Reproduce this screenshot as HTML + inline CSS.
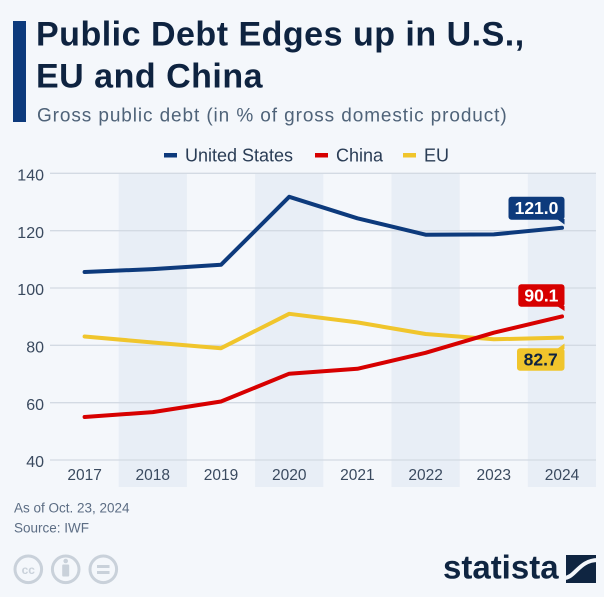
<!DOCTYPE html>
<html><head><meta charset="utf-8"><style>
html,body{margin:0;padding:0;background:#f4f7fb;}
svg{display:block;}
text{font-family:"Liberation Sans",Arial,sans-serif;}
</style></head><body>
<svg width="604" height="597" viewBox="0 0 604 597" xmlns="http://www.w3.org/2000/svg">
<rect x="0" y="0" width="604" height="597" fill="#f4f7fb"/>
<!-- title bar -->
<rect x="13" y="21" width="13" height="101" fill="#0d3a7c"/>
<text x="36" y="45.7" font-size="34" font-weight="bold" fill="#0e2340" letter-spacing="0.5">Public Debt Edges up in U.S.,</text>
<text x="36" y="87.3" font-size="34" font-weight="bold" fill="#0e2340" letter-spacing="0.5">EU and China</text>
<text x="37" y="121.7" font-size="19" fill="#4f6379" letter-spacing="0.9">Gross public debt (in % of gross domestic product)</text>
<!-- legend -->
<rect x="164" y="153" width="13" height="4.5" fill="#0d3a7c"/>
<text x="185" y="161.5" font-size="18" fill="#2a3d56">United States</text>
<rect x="315" y="153" width="13" height="4.5" fill="#d70000"/>
<text x="336" y="161.5" font-size="18" fill="#2a3d56">China</text>
<rect x="403" y="153" width="13" height="4.5" fill="#f0c52c"/>
<text x="424" y="161.5" font-size="18" fill="#2a3d56">EU</text>
<!-- bands -->
<g fill="#e8eef6">
<rect x="118.7" y="173" width="68.2" height="314"/>
<rect x="255.1" y="173" width="68.2" height="314"/>
<rect x="391.5" y="173" width="68.2" height="314"/>
<rect x="527.8" y="173" width="68.2" height="314"/>
</g>
<!-- grid -->
<g stroke="#d3dae3" stroke-width="1.3">
<line x1="50" y1="173.3" x2="596" y2="173.3"/>
<line x1="50" y1="230.7" x2="596" y2="230.7"/>
<line x1="50" y1="288" x2="596" y2="288"/>
<line x1="50" y1="345.3" x2="596" y2="345.3"/>
<line x1="50" y1="402.7" x2="596" y2="402.7"/>
<line x1="50" y1="460" x2="596" y2="460"/>
</g>
<g font-size="16" fill="#3a4a5f" text-anchor="end">
<text x="44" y="180.5">140</text>
<text x="44" y="237.9">120</text>
<text x="44" y="295.2">100</text>
<text x="44" y="352.5">80</text>
<text x="44" y="409.9">60</text>
<text x="44" y="467.2">40</text>
</g>
<g font-size="15.5" fill="#3a4a5f" text-anchor="middle">
<text x="84.6" y="480">2017</text>
<text x="152.8" y="480">2018</text>
<text x="221" y="480">2019</text>
<text x="289.2" y="480">2020</text>
<text x="357.4" y="480">2021</text>
<text x="425.6" y="480">2022</text>
<text x="493.8" y="480">2023</text>
<text x="562" y="480">2024</text>
</g>
<!-- series -->
<g fill="none" stroke-width="4" stroke-linecap="round" stroke-linejoin="round">
<polyline stroke="#f0c52c" points="84.6,336.5 152.8,342.5 221,348.2 289.2,313.8 357.4,322.4 425.6,334 493.8,339.3 562,337.6"/>
<polyline stroke="#d70000" points="84.6,417 152.8,412.1 221,401.5 289.2,373.7 357.4,368.8 425.6,352.8 493.8,332.7 562,316.4"/>
<polyline stroke="#0d3a7c" points="84.6,272 152.8,269.1 221,264.8 289.2,196.8 357.4,218.3 425.6,234.7 493.8,234.4 562,227.8"/>
</g>
<!-- value labels -->
<rect x="508.5" y="196.7" width="56" height="23" rx="3" fill="#0d3a7c"/>
<polygon points="557,219 564.5,219 564.5,224.5" fill="#0d3a7c"/>
<text x="536.5" y="214" font-size="17.5" font-weight="bold" fill="#ffffff" text-anchor="middle">121.0</text>
<rect x="518.3" y="284.3" width="46.2" height="22.5" rx="3" fill="#d70000"/>
<polygon points="557,306 564.5,306 564.5,311" fill="#d70000"/>
<text x="541.4" y="301.5" font-size="17.5" font-weight="bold" fill="#ffffff" text-anchor="middle">90.1</text>
<rect x="517" y="348.3" width="47.5" height="22.5" rx="3" fill="#f0c52c"/>
<polygon points="557,349 564.5,349 564.5,343.5" fill="#f0c52c"/>
<text x="540.7" y="365.5" font-size="17.5" font-weight="bold" fill="#0e2340" text-anchor="middle">82.7</text>
<!-- footer -->
<text x="14" y="512.7" font-size="13.5" fill="#5c6d84">As of Oct. 23, 2024</text>
<text x="14" y="532.3" font-size="13.5" fill="#5c6d84">Source: IWF</text>
<g fill="none" stroke="#c9d1da" stroke-width="3">
<circle cx="28.3" cy="569.3" r="13.3"/>
<circle cx="65.7" cy="569.3" r="13.3"/>
<circle cx="103.3" cy="569.3" r="13.3"/>
<line x1="97" y1="566.5" x2="109.5" y2="566.5"/>
<line x1="97" y1="572.5" x2="109.5" y2="572.5"/>
</g>
<text x="28.3" y="574" font-size="12" font-weight="bold" fill="#c9d1da" text-anchor="middle">cc</text>
<circle cx="65.7" cy="561" r="2.3" fill="#c9d1da"/>
<rect x="62.2" y="564.5" width="7" height="12" rx="1" fill="#c9d1da"/>
<text x="443" y="578.3" font-size="33" font-weight="bold" fill="#0f2541">statista</text>
<rect x="566" y="555" width="30" height="28" fill="#0f2541"/>
<path d="M564,578 C575,578 579,560 598,560" fill="none" stroke="#f4f7fb" stroke-width="4"/>
</svg>
</body></html>
